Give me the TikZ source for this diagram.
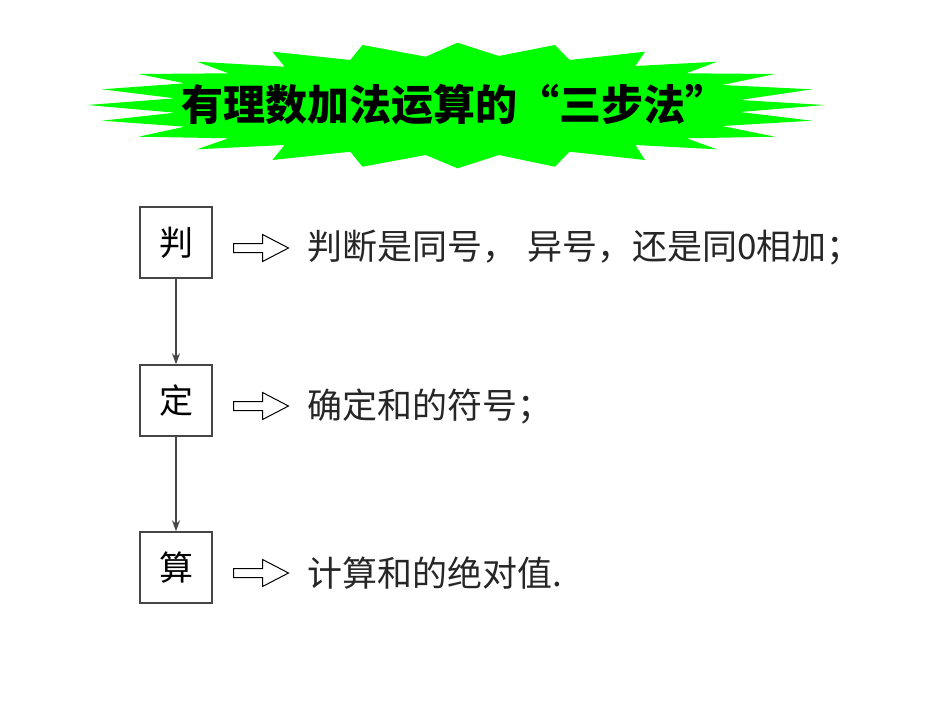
\documentclass[tikz,border=0pt]{standalone}
\usepackage{fontspec}
\setmainfont{Noto Sans CJK SC}
\usetikzlibrary{arrows.meta,shapes.arrows}
\definecolor{knallgruen}{RGB}{0,255,0}
\definecolor{linie}{RGB}{70,70,70}

\begin{document}
\begin{tikzpicture}[x=1pt,y=-1pt,
                        kasten/.style={draw=linie,line width=1.5pt,minimum width=72pt,minimum height=71pt,inner sep=0pt,font=\fontsize{34}{34}\selectfont},
                        zeile/.style={anchor=west,inner sep=0pt,text=black!85,font=\fontsize{35}{35}\selectfont},
                        pfeil/.style={single arrow,draw=black,line width=1pt,minimum height=55pt,minimum width=26pt,inner sep=4pt,single arrow head extend=9pt,single arrow tip angle=55,anchor=tail},
                        verb/.style={draw=linie,line width=1.3pt,-{Stealth[length=11pt,width=8pt]}},
                        ]
                        \useasboundingbox (0,0) rectangle (950,713);
                        %Stern hinter dem Titel
                        \fill [knallgruen] (457.5,42.7) -- (498.9,56) -- (554.9,45) -- (569.5,60) -- (645,51.7) -- (635.3,66)
                          -- (717,61.7) -- (686.4,73.3) -- (775,74) -- (722,85) -- (812,89.3) -- (740,100)
                          -- (825,105) -- (740,112) -- (812,120.7) -- (722,126) -- (775,136.7) -- (686.4,138.3)
                          -- (717,149.3) -- (635.3,145) -- (645,160) -- (569.5,151.7) -- (554.9,166.7) -- (498.9,155)
                          -- (457.5,168.3) -- (425.8,155) -- (362.5,166.7) -- (350.3,151.7) -- (272.4,160) -- (284.6,145)
                          -- (196.9,149.3) -- (228.6,138.3) -- (138.5,136.7) -- (184.7,126.7) -- (101.9,120.7) -- (175,112.7)
                          -- (87.3,105) -- (175,98.3) -- (101.9,89.3) -- (184.7,83.3) -- (138.5,74) -- (228.6,73.3)
                          -- (196.9,61.7) -- (284.6,66.7) -- (272.4,51.7) -- (350.3,60) -- (362.5,45) -- (425.8,56.7) -- cycle;
                        \node [font=\fontsize{42}{42}\selectfont\bfseries] (titel) at (454,105) {有理数加法运算的“三步法”};
                        %Kaestchen
                        \node [kasten] (pan) at (176,242.5) {判};
                        \node [kasten] (ding) at (176,400.5) {定};
                        \node [kasten] (suan) at (176,567.5) {算};
                        \draw [verb] (pan) -- (ding);
                        \draw [verb] (ding) -- (suan);
                        %Pfeile und Zeilen
                        \node [pfeil] (p1) at (233,248) {};
                        \node [pfeil] (p2) at (233,406) {};
                        \node [pfeil] (p3) at (233,573) {};
                        \node [zeile] (z1) at (307,248) {判断是同号，\hspace{10pt}异号，还是同0相加；};
                        \node [zeile] (z2) at (307,406) {确定和的符号；};
                        \node [zeile] (z3) at (307,573) {计算和的绝对值.};
                \end{tikzpicture}
\end{document}
